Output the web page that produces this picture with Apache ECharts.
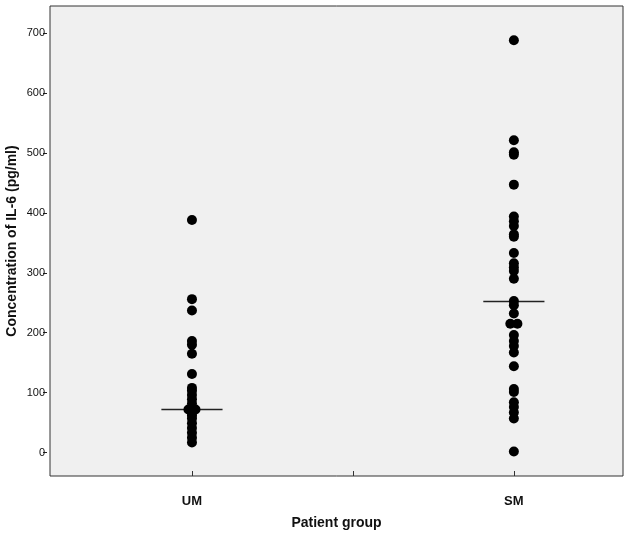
<!DOCTYPE html>
<html>
<head>
<meta charset="utf-8">
<script src="https://cdn.jsdelivr.net/npm/echarts@6/dist/echarts.min.js"></script>
<style>html,body{margin:0;padding:0;background:#fff}#c{width:630px;height:537px}</style>
</head>
<body>
<div id="c"></div>
<script>
var groups = ['UM', 'SM'];
var umValues = [388, 256, 237, 186, 180, 165, 131, 108, 103, 96, 89, 82, 75, 72, 72, 70, 66, 62, 57, 49, 41, 33, 25, 17];
var smValues = [688, 521, 501, 497, 447, 394, 386, 378, 364, 360, 333, 316, 309, 303, 290, 253, 246, 232, 215, 215, 196, 186, 178, 167, 144, 106, 101, 84, 76, 67, 57, 2];
var medians = [72, 252];
var yTicks = [0, 100, 200, 300, 400, 500, 600, 700];

function toPoints(vals, pos) {
  var counts = {}, seen = {};
  vals.forEach(function (v) { counts[v] = (counts[v] || 0) + 1; });
  return vals.map(function (v) {
    var n = counts[v], k = seen[v] || 0; seen[v] = k + 1;
    var off = n > 1 ? (k - (n - 1) / 2) * 0.022 : 0;
    return [pos + off, v];
  });
}
var seriesVals = [umValues, smValues];
var series = [];
seriesVals.forEach(function (vals, i) {
  series.push({
    type: 'scatter', data: toPoints(vals, i + 1), symbolSize: 10,
    itemStyle: { color: '#000', opacity: 1 }, z: 3
  });
  series.push({
    type: 'line', data: [[i + 1 - 0.095, medians[i]], [i + 1 + 0.095, medians[i]]],
    symbol: 'none', lineStyle: { color: '#222', width: 1.5 }, z: 2
  });
});

var chart = echarts.init(document.getElementById('c'), null, { renderer: 'canvas' });
chart.setOption({
  animation: false,
  grid: { left: 50, top: 6, right: 7, bottom: 61, show: true, backgroundColor: '#f0f0f0', borderColor: '#333', borderWidth: 1, containLabel: false, outerBoundsMode: 'none' },
  xAxis: {
    type: 'value', min: 0.559, max: 2.339,
    name: 'Patient group', nameLocation: 'middle', nameGap: 40, nameMoveOverlap: false,
    nameTextStyle: { fontFamily: 'Liberation Sans', fontWeight: 'bold', fontSize: 14, color: '#111' },
    axisLine: { show: false, onZero: false },
    splitLine: { show: false },
    axisTick: { show: true, inside: true, length: 5, customValues: [1, 1.5, 2], lineStyle: { color: '#333' } },
    axisLabel: {
      customValues: [1, 2], margin: 19,
      fontFamily: 'Liberation Sans', fontWeight: 'bold', fontSize: 13, color: '#111',
      formatter: function (v) { return groups[Math.round(v) - 1] || ''; }
    }
  },
  yAxis: {
    type: 'value', min: -39, max: 745, offset: 3,
    name: 'Concentration of IL-6 (pg/ml)', nameLocation: 'middle', nameGap: 28, nameMoveOverlap: false,
    nameTextStyle: { fontFamily: 'Liberation Sans', fontWeight: 'bold', fontSize: 14, color: '#111' },
    axisLine: { show: false, onZero: false },
    splitLine: { show: false },
    axisTick: { show: true, length: 4, customValues: yTicks, lineStyle: { color: '#222' } },
    axisLabel: { customValues: yTicks, margin: 2, fontFamily: 'Liberation Sans', fontSize: 11, color: '#111' }
  },
  series: series
});
</script>
</body>
</html>
